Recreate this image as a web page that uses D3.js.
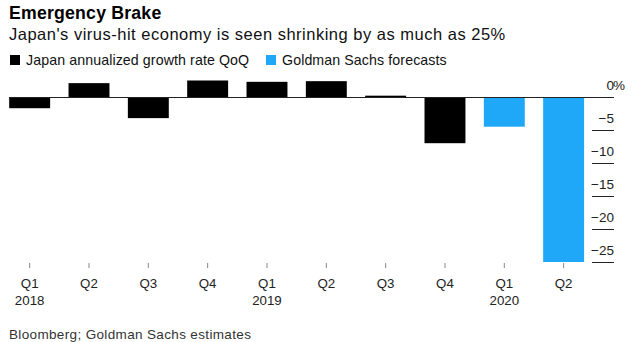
<!DOCTYPE html>
<html>
<head>
<meta charset="utf-8">
<script src="https://cdn.jsdelivr.net/npm/d3@7/dist/d3.min.js"></script>
<style>
  html, body { margin: 0; padding: 0; background: #fff; }
  svg { display: block; font-family: "Liberation Sans", Arial, Helvetica, sans-serif; }
</style>
</head>
<body>
<svg id="chart" width="635" height="342"></svg>
<script>
// Quarterly periods shown on the x axis
const periods  = ["2018Q1","2018Q2","2018Q3","2018Q4","2019Q1","2019Q2","2019Q3","2019Q4","2020Q1","2020Q2"];
const quarterLabels = ["Q1","Q2","Q3","Q4","Q1","Q2","Q3","Q4","Q1","Q2"];
const yearLabels    = ["2018","","","","2019","","","","2020",""];
// Annualized QoQ growth, percent
const growth   = [-1.7, 2.1, -3.2, 2.5, 2.3, 2.4, 0.2, -7.0, -4.5, -25.0];
// Which series each bar belongs to
const series   = ["actual","actual","actual","actual","actual","actual","actual","actual","forecast","forecast"];
const seriesNames = ["Japan annualized growth rate QoQ", "Goldman Sachs forecasts"];
const yTicks   = [0, -5, -10, -15, -20, -25];

const colors = { actual: "#000000", forecast: "#1fa8f8" };

const svg = d3.select("#chart");
svg.append("rect").attr("width", 635).attr("height", 342).attr("fill", "#fff");

// Headline
svg.append("text").attr("x", 9).attr("y", 18.5)
  .attr("font-size", 17.7).attr("font-weight", "bold").attr("letter-spacing", 0.2)
  .attr("fill", "#000").text("Emergency Brake");
svg.append("text").attr("x", 9).attr("y", 39.5)
  .attr("font-size", 16.5).attr("letter-spacing", 0.5)
  .attr("fill", "#111").text("Japan's virus-hit economy is seen shrinking by as much as 25%");

// Legend
const legendX = [10, 266];
const legend = svg.append("g");
["actual", "forecast"].forEach((k, i) => {
  legend.append("rect").attr("x", legendX[i]).attr("y", 55).attr("width", 10).attr("height", 10)
    .attr("fill", colors[k]);
  legend.append("text").attr("x", legendX[i] + 16).attr("y", 64.5)
    .attr("font-size", 14.2).attr("letter-spacing", 0.1).attr("fill", "#111")
    .text(seriesNames[i]);
});

// Scales
const x = d3.scaleBand().domain(periods).range([0, 593.3]).paddingInner(0.31).paddingOuter(0.155);
const y = d3.scaleLinear().domain([0, -25]).range([97, 262]);

// Bars
svg.append("g").selectAll("rect").data(periods).join("rect")
  .attr("x", d => x(d))
  .attr("width", x.bandwidth())
  .attr("y", (d, i) => y(Math.max(0, growth[i])))
  .attr("height", (d, i) => Math.abs(y(growth[i]) - y(0)))
  .attr("fill", (d, i) => colors[series[i]]);

// Right value axis
const axisX = 592;
const yAxis = svg.append("g").attr("transform", `translate(${axisX},0)`)
  .call(d3.axisRight(y).tickValues(yTicks).tickSize(22).tickFormat(d => d3.format("d")(d)));
yAxis.select(".domain").remove();
yAxis.selectAll(".tick line").attr("stroke", "#222").attr("stroke-width", 1)
  .attr("x1", d => d === 0 ? 9 - axisX : 0);
yAxis.selectAll(".tick text")
  .attr("x", 22).attr("dy", -7.5).attr("text-anchor", "end")
  .attr("font-size", 13.5).attr("font-family", "Liberation Sans, Arial, sans-serif").attr("fill", "#222");
yAxis.selectAll(".tick").filter(d => d === 0).append("text")
  .attr("x", 21).attr("dy", -7.5).attr("text-anchor", "start")
  .attr("font-size", 13.5).attr("fill", "#222").text("%");

// Bottom category axis
const xAxis = svg.append("g").attr("transform", "translate(0,263)")
  .call(d3.axisBottom(x).tickSize(5).tickFormat(""));
xAxis.select(".domain").remove();
xAxis.selectAll(".tick line").attr("stroke", "#888");
xAxis.selectAll(".tick text").remove();
xAxis.selectAll(".tick").each(function(d, i) {
  const t = d3.select(this).append("text").attr("text-anchor", "middle")
    .attr("font-size", 13.3).attr("fill", "#222");
  t.append("tspan").attr("x", 0).attr("y", 25).text(quarterLabels[i]);
  if (yearLabels[i]) t.append("tspan").attr("x", 0).attr("y", 42).text(yearLabels[i]);
});

// Source line
svg.append("text").attr("x", 9).attr("y", 338.5)
  .attr("font-size", 13.5).attr("letter-spacing", 0.35).attr("fill", "#333")
  .text("Bloomberg; Goldman Sachs estimates");
</script>
</body>
</html>
